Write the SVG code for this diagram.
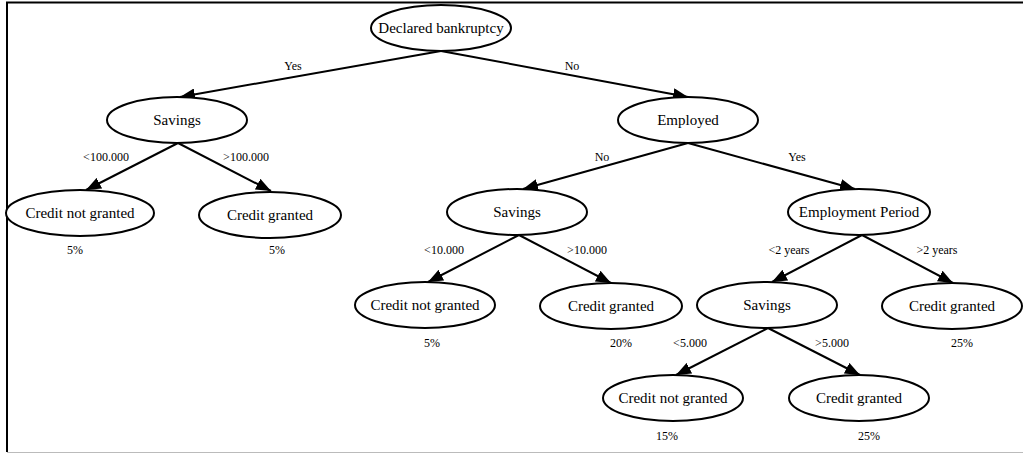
<svg xmlns="http://www.w3.org/2000/svg" width="1023" height="454" viewBox="0 0 1023 454">
<defs>
<marker id="ah" markerUnits="userSpaceOnUse" markerWidth="16" markerHeight="12" refX="15" refY="6" orient="auto">
<path d="M0,0 L15,6 L0,12 z" fill="#000"/>
</marker>
<style>
.n ellipse{fill:#fff;stroke:#000;stroke-width:2}
.n text{font-family:'Liberation Serif','DejaVu Serif',serif;font-size:15px;text-anchor:middle;fill:#000}
.e line{stroke:#000;stroke-width:2;marker-end:url(#ah)}
.l{font-family:'Liberation Serif','DejaVu Serif',serif;font-size:12px;text-anchor:middle;fill:#000}
</style>
</defs>
<rect width="1023" height="454" fill="#fff"/>
<g id="frame">
<line x1="6" y1="2.5" x2="1023" y2="2.5" stroke="#000" stroke-width="2"/>
<line x1="7" y1="2" x2="7" y2="452" stroke="#000" stroke-width="2"/>
<line x1="7" y1="452.5" x2="1023" y2="452.5" stroke="#bbb" stroke-width="1"/>
</g>
<g id="edges" class="e">
<line x1="441" y1="51" x2="180" y2="97"/>
<line x1="441" y1="51" x2="688" y2="97"/>
<line x1="178" y1="143" x2="86" y2="190"/>
<line x1="178" y1="143" x2="271" y2="191"/>
<line x1="688" y1="143" x2="523" y2="189"/>
<line x1="688" y1="143" x2="855" y2="189"/>
<line x1="519" y1="235" x2="428" y2="282"/>
<line x1="519" y1="235" x2="611" y2="283"/>
<line x1="862" y1="235" x2="772" y2="282"/>
<line x1="862" y1="235" x2="953" y2="283"/>
<line x1="768" y1="328" x2="676" y2="375"/>
<line x1="768" y1="328" x2="860" y2="375"/>
</g>
<g id="edge-labels" font-family="Liberation Serif, serif">
<text class="l" x="293" y="70">Yes</text>
<text class="l" x="572" y="70">No</text>
<text class="l" x="106" y="161">&lt;100.000</text>
<text class="l" x="246" y="161">&gt;100.000</text>
<text class="l" x="602" y="161">No</text>
<text class="l" x="797" y="161">Yes</text>
<text class="l" x="444" y="254">&lt;10.000</text>
<text class="l" x="587" y="254">&gt;10.000</text>
<text class="l" x="789" y="254">&lt;2 years</text>
<text class="l" x="937" y="254">&gt;2 years</text>
<text class="l" x="690" y="347">&lt;5.000</text>
<text class="l" x="832" y="347">&gt;5.000</text>
</g>
<g id="n-root" class="n"><ellipse cx="441" cy="28" rx="70" ry="23"/><text x="441" y="33">Declared bankruptcy</text></g>
<g id="n-savings1" class="n"><ellipse cx="177" cy="120" rx="70" ry="23"/><text x="177" y="125">Savings</text></g>
<g id="n-employed" class="n"><ellipse cx="688" cy="120" rx="70" ry="23"/><text x="688" y="125">Employed</text></g>
<g id="n-cng1" class="n"><ellipse cx="80" cy="213" rx="74" ry="23"/><text x="80" y="218">Credit not granted</text></g>
<g id="n-cg1" class="n"><ellipse cx="270" cy="215" rx="71" ry="23"/><text x="270" y="220">Credit granted</text></g>
<g id="n-savings2" class="n"><ellipse cx="517" cy="212" rx="70" ry="23"/><text x="517" y="217">Savings</text></g>
<g id="n-period" class="n"><ellipse cx="859" cy="212" rx="71" ry="23"/><text x="859" y="217">Employment Period</text></g>
<g id="n-cng2" class="n"><ellipse cx="425" cy="305" rx="70" ry="23"/><text x="425" y="310">Credit not granted</text></g>
<g id="n-cg2" class="n"><ellipse cx="611" cy="306" rx="71" ry="23"/><text x="611" y="311">Credit granted</text></g>
<g id="n-savings3" class="n"><ellipse cx="767" cy="305" rx="70" ry="23"/><text x="767" y="310">Savings</text></g>
<g id="n-cg3" class="n"><ellipse cx="952" cy="306" rx="70" ry="23"/><text x="952" y="311">Credit granted</text></g>
<g id="n-cng3" class="n"><ellipse cx="673" cy="398" rx="70" ry="23"/><text x="673" y="403">Credit not granted</text></g>
<g id="n-cg4" class="n"><ellipse cx="859" cy="398" rx="70" ry="23"/><text x="859" y="403">Credit granted</text></g>
<g id="pct">
<text class="l" x="75" y="254">5%</text>
<text class="l" x="277" y="254">5%</text>
<text class="l" x="432" y="347">5%</text>
<text class="l" x="621" y="347">20%</text>
<text class="l" x="962" y="347">25%</text>
<text class="l" x="667" y="440">15%</text>
<text class="l" x="869" y="440">25%</text>
</g>
</svg>
